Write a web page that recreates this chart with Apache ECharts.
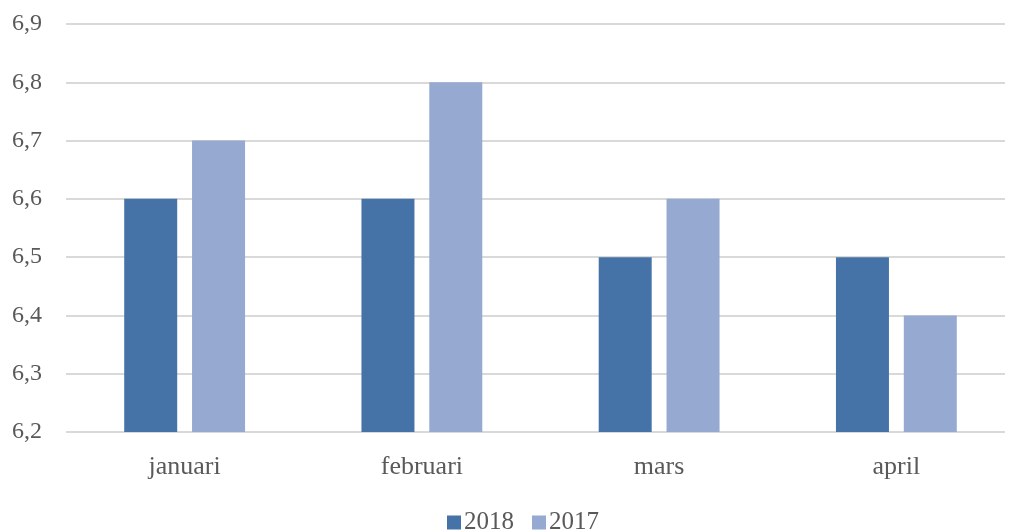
<!DOCTYPE html>
<html lang="sv">
<head>
    <meta charset="utf-8">
    <script src="https://cdn.jsdelivr.net/npm/echarts@6/dist/echarts.min.js"></script>
    <style>
        html, body { margin: 0; padding: 0; background: #fff; }
        #chart { width: 1015px; height: 532px; }
    </style>
</head>
<body>
<div id="chart"></div>
<script>
    // data
    var months = ['januari', 'februari', 'mars', 'april'];
    var values2018 = [6.6, 6.6, 6.5, 6.5];
    var values2017 = [6.7, 6.8, 6.6, 6.4];
    var seriesNames = ['2018', '2017'];
    var yMin = 6.2, yMax = 6.9, yStep = 0.1;

    var font = '"Liberation Serif", "DejaVu Serif", serif';
    var grey = '#595959';
    var chart = echarts.init(document.getElementById('chart'));

    function comma(v) {
        return v.toFixed(1).replace('.', ',');
    }

    // grid 0 carries the gridlines + y labels, grid 1 carries the bars
    // (the bars in the original sit on a slightly wider band than the gridlines)
    var option = {
        animation: false,
        textStyle: { fontFamily: font, color: grey },
        legend: {
            data: seriesNames,
            top: 505,
            left: 442,
            icon: 'rect',
            itemWidth: 14,
            itemHeight: 14,
            itemGap: 18,
            textStyle: { fontFamily: font, fontSize: 25, color: grey, padding: [0, 0, 0, -2] }
        },
        grid: [
            { left: 66, right: 10, top: 24, bottom: 100 },
            { left: 66, right: -2, top: 24, bottom: 100 }
        ],
        xAxis: [
            {
                type: 'category',
                gridIndex: 0,
                data: months,
                show: false
            },
            {
                type: 'category',
                gridIndex: 1,
                data: months,
                axisTick: { show: false },
                axisLine: { show: false },
                axisLabel: { fontFamily: font, fontSize: 26, color: grey, margin: 22 }
            }
        ],
        yAxis: [
            {
                type: 'value',
                gridIndex: 0,
                min: yMin,
                max: yMax,
                interval: yStep,
                axisLine: { show: false },
                axisTick: { show: false },
                splitLine: { lineStyle: { color: '#d9d9d9', width: 2 } },
                axisLabel: {
                    fontFamily: font,
                    fontSize: 24,
                    color: grey,
                    margin: 24,
                    formatter: function (v) { return comma(v); }
                }
            },
            {
                type: 'value',
                gridIndex: 1,
                min: yMin,
                max: yMax,
                interval: yStep,
                show: false
            }
        ],
        series: [
            {
                name: seriesNames[0],
                type: 'bar',
                xAxisIndex: 1,
                yAxisIndex: 1,
                data: values2018,
                barWidth: 53,
                barGap: '28%',
                itemStyle: { color: '#4673a7' }
            },
            {
                name: seriesNames[1],
                type: 'bar',
                xAxisIndex: 1,
                yAxisIndex: 1,
                data: values2017,
                barWidth: 53,
                barGap: '28%',
                itemStyle: { color: '#95a9d1' }
            }
        ]
    };
    chart.setOption(option);
</script>
</body>
</html>
